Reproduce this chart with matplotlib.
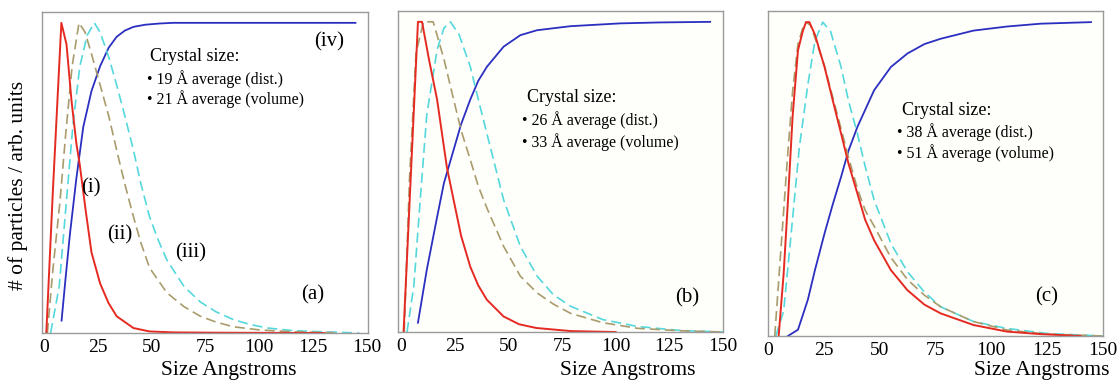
import matplotlib.pyplot as plt

plt.rcParams['font.family'] = ['Liberation Serif', 'DejaVu Serif']

# ---- panel (a) ----
a_red_x = [1, 4, 8, 10.4, 12.7, 15, 16.6, 19.4, 22, 26, 29.9, 33.7, 41.5, 49, 60, 80, 130]
a_red_y = [0, 0.45, 1.0, 0.93, 0.75, 0.61, 0.54, 0.39, 0.26, 0.16, 0.097, 0.054, 0.016, 0.005, 0.002, 0.001, 0]
a_olive_x = [1.5, 4, 7.3, 10, 13, 16.2, 19, 22, 26, 30, 33.7, 37.5, 41.5, 45, 49, 57, 65, 72.6, 80, 88, 100, 115, 135]
a_olive_y = [0, 0.2, 0.42, 0.64, 0.86, 1.0, 0.97, 0.9, 0.8, 0.7, 0.59, 0.48, 0.375, 0.29, 0.21, 0.13, 0.085, 0.054, 0.035, 0.02, 0.01, 0.004, 0.001]
a_cyan_x = [3, 7, 10.4, 13.5, 16.6, 20, 23.3, 26, 30, 33.7, 37.5, 41.5, 45, 49, 53, 57, 65, 72.6, 80, 88, 96, 104, 115, 125, 146.5]
a_cyan_y = [0, 0.15, 0.43, 0.68, 0.86, 0.96, 1.0, 0.97, 0.89, 0.8, 0.7, 0.59, 0.48, 0.375, 0.3, 0.236, 0.15, 0.1, 0.068, 0.043, 0.027, 0.016, 0.008, 0.005, 0.0]
a_blue_x = [8.1, 10, 12, 15, 18.2, 22, 26, 30, 33.7, 37.5, 41.5, 47, 54, 60, 80, 110, 144.7]
a_blue_y = [0.04, 0.18, 0.32, 0.5, 0.665, 0.78, 0.86, 0.92, 0.955, 0.975, 0.987, 0.994, 0.998, 1.0, 1.0, 1.0, 1.0]

# ---- panel (b) ----
b_red_x = [1.2, 7.9, 9.8, 13, 16.8, 21.4, 24.5, 28, 32.3, 36, 40, 47.8, 55, 63, 79, 100]
b_red_y = [0, 1.0, 1.0, 0.88, 0.75, 0.53, 0.426, 0.31, 0.21, 0.15, 0.104, 0.05, 0.025, 0.013, 0.003, 0.0]
b_olive_x = [1.5, 4, 7, 10.5, 15, 20, 24.5, 28, 32.3, 36, 40, 47.8, 55.6, 63.4, 71, 79, 94, 110, 130, 150]
b_olive_y = [0, 0.5, 0.9, 1.0, 1.0, 0.88, 0.75, 0.65, 0.555, 0.47, 0.40, 0.276, 0.18, 0.126, 0.09, 0.06, 0.03, 0.012, 0.004, 0.0]
b_cyan_x = [2.8, 6, 9, 12, 16.8, 20, 23, 27, 32.3, 36, 40, 44, 47.8, 55.6, 63.4, 71, 79, 94, 110, 130, 150]
b_cyan_y = [0, 0.15, 0.43, 0.7, 0.91, 0.98, 1.0, 0.96, 0.855, 0.75, 0.64, 0.53, 0.426, 0.276, 0.18, 0.12, 0.083, 0.04, 0.018, 0.005, 0.0]
b_blue_x = [7.9, 12, 16.8, 20, 24.5, 28, 32.3, 36, 40, 47.8, 55.6, 63.4, 79, 102, 120, 144]
b_blue_y = [0.03, 0.2, 0.37, 0.48, 0.587, 0.67, 0.75, 0.81, 0.855, 0.92, 0.957, 0.973, 0.986, 0.995, 0.998, 1.0]

# ---- panel (c) ----
c_red_x = [4.75, 7, 8.9, 11, 13.4, 15.5, 17, 18.5, 21, 25.3, 29, 32.7, 36, 40, 43.5, 47.5, 55, 62.4, 70, 77.3, 92, 107, 122, 140]
c_red_y = [0, 0.2, 0.43, 0.7, 0.91, 0.97, 1.0, 1.0, 0.96, 0.857, 0.75, 0.645, 0.55, 0.454, 0.37, 0.305, 0.21, 0.146, 0.1, 0.072, 0.035, 0.014, 0.006, 0.0]
c_olive_x = [3, 6, 8.5, 11, 13.4, 15.5, 17, 19, 21, 25.3, 29, 32.7, 36, 40, 43.5, 47.5, 55, 62.4, 70, 77.3, 92, 107, 125, 150]
c_olive_y = [0, 0.3, 0.55, 0.78, 0.93, 0.98, 1.0, 0.99, 0.95, 0.86, 0.76, 0.66, 0.57, 0.47, 0.4, 0.35, 0.25, 0.18, 0.13, 0.093, 0.046, 0.019, 0.006, 0.0]
c_cyan_x = [3.5, 7, 10.4, 14, 17.8, 21, 24.5, 28, 32.7, 36, 40, 43.5, 47.5, 55, 62.4, 70, 77.3, 92, 107, 125, 150]
c_cyan_y = [0, 0.08, 0.33, 0.6, 0.8, 0.94, 1.0, 0.97, 0.857, 0.75, 0.645, 0.54, 0.433, 0.295, 0.205, 0.14, 0.093, 0.046, 0.024, 0.008, 0.0]
c_blue_x = [8.9, 13.4, 17.8, 21, 25.3, 29, 32.7, 36, 40, 47.5, 55, 62.4, 70, 77.3, 92, 107, 122, 144.6]
c_blue_y = [0, 0.02, 0.115, 0.21, 0.327, 0.42, 0.507, 0.59, 0.666, 0.783, 0.857, 0.90, 0.93, 0.947, 0.973, 0.986, 0.995, 1.0]

ticks = [0, 25, 50, 75, 100, 125, 150]
avg_dist = [19, 26, 38]
avg_vol = [21, 33, 51]
panel_tags = ['(a)', '(b)', '(c)']

red, olive, cyan, blue = '#e52a22', '#a99c6c', '#55d8dc', '#2b2fc0'

fig = plt.figure(figsize=(11.17, 3.84), dpi=100)
rects = [[0.0376, 0.1328, 0.2918, 0.836],
         [0.3563, 0.1354, 0.2910, 0.836],
         [0.6876, 0.1250, 0.2999, 0.846]]
xlims = [(-1, 150.5), (-1.4, 150), (0.3, 150)]
# text layout per panel (axes fractions)
crystal_xy = [(0.331, 0.860), (0.397, 0.729), (0.400, 0.695)]
bullet_xy = [(0.322, 0.791, 0.729), (0.382, 0.660, 0.592), (0.385, 0.628, 0.563)]
tag_xy = [(0.831, 0.118), (0.889, 0.106), (0.833, 0.12)]
xlab_x = [0.205, 0.562, 0.933]

data = [
    (a_red_x, a_red_y, a_olive_x, a_olive_y, a_cyan_x, a_cyan_y, a_blue_x, a_blue_y),
    (b_red_x, b_red_y, b_olive_x, b_olive_y, b_cyan_x, b_cyan_y, b_blue_x, b_blue_y),
    (c_red_x, c_red_y, c_olive_x, c_olive_y, c_cyan_x, c_cyan_y, c_blue_x, c_blue_y),
]

for i in range(3):
    ax = fig.add_axes(rects[i])
    rx, ry, ox, oy, cx, cy, bx, by = data[i]
    ax.plot(bx, by, color=blue, lw=1.3)
    ax.plot(cx, cy, color=cyan, lw=1.2, dashes=(6, 3))
    ax.plot(ox, oy, color=olive, lw=1.2, dashes=(6, 3))
    ax.plot(rx, ry, color=red, lw=1.4)
    ax.set_xlim(*xlims[i])
    ax.set_ylim(0, 1.035)
    ax.set_xticks(ticks)
    ax.set_yticks([])
    ax.tick_params(axis='x', length=0, pad=4, labelsize=14)
    for s in ax.spines.values():
        s.set_color('#9a9a9a')
        s.set_linewidth(1.0)
    if i > 0:
        ax.set_facecolor('#fefefb')
    tx, ty = crystal_xy[i]
    ax.text(tx, ty, 'Crystal size:', transform=ax.transAxes, fontsize=13, va='center')
    bx0, by1, by2 = bullet_xy[i]
    ax.text(bx0, by1, '\u2022 %d \u00c5 average (dist.)' % avg_dist[i], transform=ax.transAxes, fontsize=11.5, va='center')
    ax.text(bx0, by2, '\u2022 %d \u00c5 average (volume)' % avg_vol[i], transform=ax.transAxes, fontsize=11.5, va='center')
    gx, gy = tag_xy[i]
    ax.text(gx, gy, panel_tags[i], transform=ax.transAxes, fontsize=15, ha='center', va='center')
    fig.text(xlab_x[i], 0.034, 'Size Angstroms', fontsize=15.5, ha='center', va='center')
    if i == 0:
        ax.text(0.880, 0.907, '(iv)', transform=ax.transAxes, fontsize=15, ha='center', va='center')
        ax.text(0.150, 0.452, '(i)', transform=ax.transAxes, fontsize=15, ha='center', va='center')
        ax.text(0.239, 0.305, '(ii)', transform=ax.transAxes, fontsize=15, ha='center', va='center')
        ax.text(0.457, 0.249, '(iii)', transform=ax.transAxes, fontsize=15, ha='center', va='center')

fig.text(0.016, 0.518, '# of particles / arb. units', rotation=90, fontsize=15.5, ha='center', va='center')

plt.savefig('out.png', dpi=100)
